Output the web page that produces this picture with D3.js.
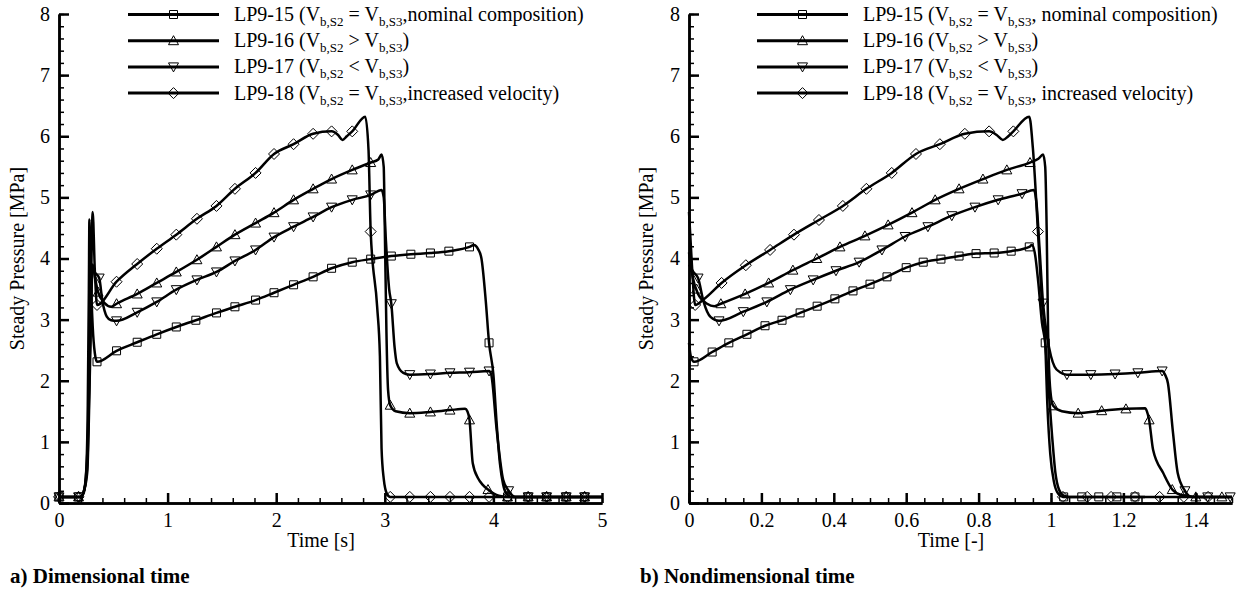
<!DOCTYPE html>
<html>
<head>
<meta charset="utf-8">
<script src="https://cdnjs.cloudflare.com/ajax/libs/d3/7.8.5/d3.min.js"></script>
<style>
body { margin: 0; background: #fff; }
svg { font-family: "Liberation Serif", "Times New Roman", serif; }
text { white-space: pre; }
</style>
</head>
<body>
<svg class="chart" width="1239" height="594"></svg>
<script>
// ---- data ----
var pressureTicks = [0, 1, 2, 3, 4, 5, 6, 7, 8];
var dimTimeTicks = [0, 1, 2, 3, 4, 5];
var nonTimeTicks = [0, 0.2, 0.4, 0.6, 0.8, 1, 1.2, 1.4];

var seriesNames = ['LP9-15', 'LP9-16', 'LP9-17', 'LP9-18'];
var seriesSymbols = ['square', 'triangle', 'triangleDown', 'diamond'];

// legend texts, odd entries are subscripts
var legendDim = [
    ['LP9-15 (V', 'b,S2', ' = V', 'b,S3', ',nominal composition)'],
    ['LP9-16 (V', 'b,S2', ' > V', 'b,S3', ')'],
    ['LP9-17 (V', 'b,S2', ' < V', 'b,S3', ')'],
    ['LP9-18 (V', 'b,S2', ' = V', 'b,S3', ',increased velocity)']
];
var legendNon = [
    ['LP9-15 (V', 'b,S2', ' = V', 'b,S3', ', nominal composition)'],
    ['LP9-16 (V', 'b,S2', ' > V', 'b,S3', ')'],
    ['LP9-17 (V', 'b,S2', ' < V', 'b,S3', ')'],
    ['LP9-18 (V', 'b,S2', ' = V', 'b,S3', ', increased velocity)']
];

// dimensional time [s] vs pressure [MPa]
var lp15Dim = [[0,0.1],[0.2,0.1],[0.23,0.18],[0.25,0.5],[0.265,1.6],[0.275,3.5],[0.28,4.64],[0.29,3.9],[0.31,2.9],[0.33,2.45],[0.35,2.31],[0.53,2.49],[0.72,2.63],[0.9,2.76],[1.08,2.88],[1.26,2.99],[1.45,3.11],[1.62,3.21],[1.81,3.32],[1.98,3.44],[2.16,3.57],[2.34,3.7],[2.51,3.84],[2.7,3.94],[2.87,3.99],[3.06,4.04],[3.24,4.07],[3.42,4.09],[3.59,4.12],[3.78,4.19],[3.82,4.22],[3.86,4.15],[3.89,4.0],[3.93,3.3],[3.96,2.62],[4.0,2.1],[4.03,1.3],[4.06,0.65],[4.09,0.3],[4.12,0.15],[4.16,0.1],[5,0.1]];
var lp15DimMarks = [[0,0.1],[0.18,0.1],[0.35,2.31],[0.53,2.49],[0.72,2.63],[0.9,2.76],[1.08,2.88],[1.26,2.99],[1.45,3.11],[1.62,3.21],[1.81,3.32],[1.98,3.44],[2.16,3.57],[2.34,3.7],[2.51,3.84],[2.7,3.94],[2.87,3.99],[3.06,4.04],[3.24,4.07],[3.42,4.09],[3.59,4.12],[3.78,4.19],[3.96,2.62],[4.13,0.1],[4.32,0.1],[4.49,0.1],[4.67,0.1],[4.84,0.1]];

var lp16Dim = [[0,0.1],[0.2,0.1],[0.23,0.2],[0.26,0.6],[0.285,2.5],[0.3,3.7],[0.31,3.9],[0.33,3.7],[0.36,3.45],[0.42,3.27],[0.48,3.21],[0.53,3.26],[0.72,3.42],[0.9,3.6],[1.08,3.78],[1.27,3.98],[1.45,4.19],[1.62,4.39],[1.81,4.58],[1.98,4.75],[2.16,4.96],[2.34,5.14],[2.51,5.3],[2.7,5.45],[2.87,5.57],[2.94,5.62],[2.97,5.7],[2.99,5.5],[3.0,4.5],[3.015,2.8],[3.03,1.85],[3.05,1.6],[3.1,1.5],[3.23,1.47],[3.42,1.49],[3.6,1.52],[3.74,1.54],[3.76,1.5],[3.78,1.36],[3.81,0.65],[3.86,0.4],[3.9,0.3],[3.95,0.22],[4.05,0.12],[4.15,0.1],[5,0.1]];
var lp16DimMarks = [[0,0.1],[0.18,0.1],[0.36,3.45],[0.53,3.26],[0.72,3.42],[0.9,3.6],[1.08,3.78],[1.27,3.98],[1.45,4.19],[1.62,4.39],[1.81,4.58],[1.98,4.75],[2.16,4.96],[2.34,5.14],[2.51,5.3],[2.7,5.45],[2.87,5.57],[3.05,1.6],[3.23,1.47],[3.42,1.49],[3.6,1.52],[3.78,1.36],[3.95,0.22],[4.13,0.1],[4.32,0.1],[4.49,0.1],[4.67,0.1],[4.84,0.1]];

var lp17Dim = [[0,0.1],[0.2,0.1],[0.23,0.2],[0.26,0.5],[0.285,2.2],[0.3,3.5],[0.31,3.8],[0.34,3.75],[0.37,3.68],[0.4,3.3],[0.44,3.05],[0.48,2.99],[0.53,2.98],[0.72,3.12],[0.9,3.29],[1.08,3.49],[1.27,3.65],[1.45,3.78],[1.62,3.96],[1.81,4.14],[1.98,4.35],[2.16,4.52],[2.34,4.68],[2.51,4.84],[2.7,4.96],[2.87,5.04],[2.97,5.12],[2.99,5.0],[3.01,4.3],[3.04,3.5],[3.06,3.26],[3.09,2.55],[3.11,2.29],[3.17,2.13],[3.23,2.1],[3.42,2.11],[3.6,2.13],[3.78,2.14],[3.96,2.16],[3.98,2.1],[4.03,1.2],[4.09,0.38],[4.14,0.2],[4.2,0.1],[5,0.1]];
var lp17DimMarks = [[0,0.1],[0.18,0.1],[0.37,3.68],[0.53,2.98],[0.72,3.12],[0.9,3.29],[1.08,3.49],[1.27,3.65],[1.45,3.78],[1.62,3.96],[1.81,4.14],[1.98,4.35],[2.16,4.52],[2.34,4.68],[2.51,4.84],[2.7,4.96],[2.87,5.04],[3.06,3.26],[3.23,2.1],[3.42,2.11],[3.6,2.13],[3.78,2.14],[3.96,2.16],[4.14,0.2],[4.32,0.1],[4.49,0.1],[4.67,0.1],[4.84,0.1]];

var lp18Dim = [[0,0.1],[0.2,0.1],[0.23,0.2],[0.26,0.8],[0.29,3.0],[0.31,4.76],[0.33,3.8],[0.35,3.24],[0.53,3.62],[0.72,3.91],[0.9,4.16],[1.08,4.39],[1.27,4.65],[1.45,4.86],[1.62,5.14],[1.81,5.4],[1.98,5.71],[2.16,5.87],[2.34,6.04],[2.51,6.08],[2.57,6.02],[2.61,5.94],[2.65,6.0],[2.7,6.08],[2.82,6.32],[2.85,5.78],[2.87,4.44],[2.93,3.2],[2.955,2.4],[2.97,0.9],[2.99,0.4],[3.02,0.15],[3.05,0.1],[5,0.1]];
var lp18DimMarks = [[0,0.1],[0.18,0.1],[0.35,3.24],[0.53,3.62],[0.72,3.91],[0.9,4.16],[1.08,4.39],[1.27,4.65],[1.45,4.86],[1.62,5.14],[1.81,5.4],[1.98,5.71],[2.16,5.87],[2.34,6.04],[2.51,6.08],[2.7,6.08],[2.87,4.44],[3.05,0.1],[3.23,0.1],[3.42,0.1],[3.6,0.1],[3.78,0.1],[3.96,0.1],[4.13,0.1],[4.32,0.1],[4.49,0.1],[4.67,0.1],[4.84,0.1]];

// nondimensional time [-] vs pressure [MPa]
var lp15Non = [[0,2.62],[0.005,2.4],[0.014,2.31],[0.064,2.47],[0.11,2.62],[0.16,2.76],[0.21,2.9],[0.257,2.99],[0.307,3.11],[0.354,3.22],[0.403,3.34],[0.453,3.47],[0.5,3.58],[0.547,3.7],[0.6,3.85],[0.647,3.94],[0.696,3.99],[0.746,4.04],[0.793,4.08],[0.843,4.09],[0.89,4.12],[0.94,4.19],[0.947,4.22],[0.955,4.1],[0.965,3.6],[0.975,2.95],[0.984,2.62],[0.993,1.9],[1.003,1.1],[1.012,0.5],[1.022,0.22],[1.035,0.12],[1.05,0.1],[1.26,0.1]];
var lp15NonMarks = [[0.014,2.31],[0.064,2.47],[0.11,2.62],[0.16,2.76],[0.21,2.9],[0.257,2.99],[0.307,3.11],[0.354,3.22],[0.403,3.34],[0.453,3.47],[0.5,3.58],[0.547,3.7],[0.6,3.85],[0.647,3.94],[0.696,3.99],[0.746,4.04],[0.793,4.08],[0.843,4.09],[0.89,4.12],[0.94,4.19],[0.984,2.62],[1.035,0.1],[1.085,0.1],[1.132,0.1],[1.182,0.1],[1.232,0.1]];

var lp16Non = [[0,4.1],[0.01,3.7],[0.025,3.42],[0.05,3.26],[0.07,3.22],[0.088,3.26],[0.155,3.42],[0.22,3.6],[0.287,3.81],[0.353,4.0],[0.417,4.19],[0.486,4.37],[0.55,4.55],[0.616,4.75],[0.68,4.96],[0.746,5.14],[0.812,5.3],[0.878,5.45],[0.942,5.57],[0.965,5.63],[0.978,5.7],[0.984,5.5],[0.988,4.5],[0.992,2.8],[0.998,1.85],[1.006,1.59],[1.03,1.5],[1.075,1.47],[1.14,1.51],[1.207,1.54],[1.26,1.55],[1.265,1.5],[1.271,1.36],[1.282,0.87],[1.31,0.49],[1.335,0.22],[1.36,0.13],[1.4,0.1],[1.5,0.1]];
var lp16NonMarks = [[0.021,3.5],[0.088,3.26],[0.155,3.42],[0.22,3.6],[0.287,3.81],[0.353,4.0],[0.417,4.19],[0.486,4.37],[0.55,4.55],[0.616,4.75],[0.68,4.96],[0.746,5.14],[0.812,5.3],[0.878,5.45],[0.942,5.57],[1.006,1.59],[1.075,1.47],[1.14,1.51],[1.207,1.54],[1.271,1.36],[1.335,0.22],[1.4,0.1],[1.472,0.1]];

var lp17Non = [[0,3.9],[0.012,3.78],[0.025,3.68],[0.04,3.3],[0.06,3.04],[0.083,2.98],[0.15,3.13],[0.215,3.29],[0.28,3.49],[0.343,3.65],[0.406,3.8],[0.47,3.94],[0.533,4.14],[0.597,4.36],[0.66,4.52],[0.726,4.7],[0.79,4.84],[0.854,4.96],[0.92,5.06],[0.953,5.12],[0.96,4.9],[0.968,4.2],[0.978,3.27],[0.99,2.7],[1.0,2.4],[1.01,2.23],[1.025,2.14],[1.044,2.1],[1.11,2.1],[1.177,2.11],[1.24,2.13],[1.307,2.16],[1.315,2.1],[1.323,1.96],[1.337,1.15],[1.35,0.49],[1.37,0.2],[1.39,0.1],[1.5,0.1]];
var lp17NonMarks = [[0.025,3.68],[0.083,2.98],[0.15,3.13],[0.215,3.29],[0.28,3.49],[0.343,3.65],[0.406,3.8],[0.47,3.94],[0.533,4.14],[0.597,4.36],[0.66,4.52],[0.726,4.7],[0.79,4.84],[0.854,4.96],[0.92,5.06],[0.978,3.27],[1.044,2.1],[1.11,2.1],[1.177,2.11],[1.24,2.13],[1.307,2.16],[1.37,0.2],[1.433,0.1],[1.495,0.1]];

var lp18Non = [[0,4.76],[0.008,3.9],[0.017,3.24],[0.04,3.33],[0.09,3.6],[0.157,3.89],[0.224,4.14],[0.29,4.39],[0.359,4.63],[0.425,4.86],[0.49,5.14],[0.56,5.4],[0.627,5.71],[0.693,5.87],[0.762,6.04],[0.829,6.08],[0.85,6.02],[0.867,5.94],[0.882,6.0],[0.896,6.08],[0.94,6.32],[0.95,5.8],[0.964,4.44],[0.975,3.3],[0.983,2.78],[0.99,1.6],[0.998,0.8],[1.008,0.35],[1.02,0.15],[1.033,0.1],[1.5,0.1]];
var lp18NonMarks = [[0.017,3.24],[0.09,3.6],[0.157,3.89],[0.224,4.14],[0.29,4.39],[0.359,4.63],[0.425,4.86],[0.49,5.14],[0.56,5.4],[0.627,5.71],[0.693,5.87],[0.762,6.04],[0.829,6.08],[0.896,6.08],[0.964,4.44],[1.033,0.1],[1.1,0.1],[1.166,0.1],[1.232,0.1],[1.3,0.1],[1.367,0.1],[1.434,0.1]];

// ---- layout ----
var plotTop = 14, plotBottom = 503;

var panels = [
    {
        left: 59, right: 602, domain: [0, 5], ticks: dimTimeTicks, minorStep: 0.2,
        xTitle: 'Time [s]', xTitleX: 321, yTitleX: 24,
        caption: 'a) Dimensional time', captionX: 10,
        legend: legendDim, legendX: 128,
        lines: [lp15Dim, lp16Dim, lp17Dim, lp18Dim],
        marks: [lp15DimMarks, lp16DimMarks, lp17DimMarks, lp18DimMarks]
    },
    {
        left: 689, right: 1232, domain: [0, 1.5], ticks: nonTimeTicks, minorStep: 0.05,
        xTitle: 'Time [-]', xTitleX: 951, yTitleX: 653,
        caption: 'b) Nondimensional time', captionX: 640,
        legend: legendNon, legendX: 757,
        lines: [lp15Non, lp16Non, lp17Non, lp18Non],
        marks: [lp15NonMarks, lp16NonMarks, lp17NonMarks, lp18NonMarks]
    }
];

var symbolPath = function(type){
    if(type === 'square') return 'M-4,-4H4V4H-4Z';
    if(type === 'triangle') return 'M0,-5L5,4H-5Z';
    if(type === 'triangleDown') return 'M0,5L5,-4H-5Z';
    return 'M0,-5.5L5.5,0L0,5.5L-5.5,0Z';
};

var fmt = function(d){ return String(+d.toFixed(2)); };

var svg = d3.select('svg.chart');

var renderPanel = function(p){
    var x = d3.scaleLinear().domain(p.domain).range([p.left, p.right]);
    var y = d3.scaleLinear().domain([0, 8]).range([plotBottom, plotTop]);
    var g = svg.append('g');

    // minor ticks
    g.append('g')
        .attr('transform', 'translate(0,' + plotBottom + ')')
        .call(d3.axisBottom(x).tickValues(d3.range(p.domain[0], p.domain[1] + 1e-6, p.minorStep)).tickSize(-5).tickSizeOuter(0).tickFormat(''));
    g.append('g')
        .attr('transform', 'translate(' + p.left + ',0)')
        .call(d3.axisLeft(y).tickValues(d3.range(0, 8.001, 0.2)).tickSize(-5).tickSizeOuter(0).tickFormat(''));

    // major ticks + labels
    var xAxis = g.append('g')
        .attr('transform', 'translate(0,' + plotBottom + ')')
        .call(d3.axisBottom(x).tickValues(p.ticks).tickSize(-10).tickSizeOuter(0).tickPadding(10).tickFormat(fmt));
    var yAxis = g.append('g')
        .attr('transform', 'translate(' + p.left + ',0)')
        .call(d3.axisLeft(y).tickValues(pressureTicks).tickSize(-10).tickSizeOuter(0).tickPadding(9).tickFormat(fmt));

    g.selectAll('.domain').attr('stroke', '#000').attr('stroke-width', 2.5);
    g.selectAll('.tick line').attr('stroke', '#000').attr('stroke-width', 1.5);
    g.selectAll('.tick line').filter(function(){ return Math.abs(+this.getAttribute('x2') || +this.getAttribute('y2')) > 8; })
        .attr('stroke-width', 2.5);
    [xAxis, yAxis].forEach(function(a){
        a.attr('font-family', null).attr('font-size', null);
        a.selectAll('text').attr('fill', '#000').style('font-size', '20px');
    });

    // axis titles
    g.append('text')
        .attr('x', p.xTitleX).attr('y', 547)
        .attr('text-anchor', 'middle')
        .style('font-size', '20px')
        .text(p.xTitle);
    g.append('text')
        .attr('transform', 'translate(' + p.yTitleX + ',' + (plotTop + plotBottom) / 2 + ') rotate(-90)')
        .attr('text-anchor', 'middle')
        .style('font-size', '20px')
        .text('Steady Pressure [MPa]');

    // caption
    g.append('text')
        .attr('x', p.captionX).attr('y', 583)
        .style('font-size', '21px').style('font-weight', 'bold')
        .text(p.caption);

    // series
    var line = d3.line()
        .x(function(d){ return x(d[0]); })
        .y(function(d){ return y(d[1]); })
        .curve(d3.curveMonotoneX);

    p.lines.forEach(function(data, i){
        g.append('path')
            .attr('d', line(data))
            .attr('fill', 'none')
            .attr('stroke', '#000')
            .attr('stroke-width', 2.5)
            .attr('stroke-linejoin', 'round');

        g.selectAll('.mark' + i)
            .data(p.marks[i])
            .enter().append('path')
            .attr('class', 'mark' + i)
            .attr('transform', function(d){ return 'translate(' + [x(d[0]), y(d[1])] + ')'; })
            .attr('d', symbolPath(seriesSymbols[i]))
            .attr('fill', 'none')
            .attr('stroke', '#000')
            .attr('stroke-width', 1);
    });

    // legend
    var rowH = 26.2;
    var items = g.selectAll('.legend-item')
        .data(p.legend)
        .enter().append('g')
        .attr('class', 'legend-item')
        .attr('transform', function(d, i){ return 'translate(' + p.legendX + ',' + (plotTop + 0.5 + i * rowH) + ')'; });

    items.append('line')
        .attr('x1', 0).attr('x2', 91)
        .attr('stroke', '#000').attr('stroke-width', 3);

    items.append('path')
        .attr('transform', 'translate(45.5,0)')
        .attr('d', function(d, i){ return symbolPath(seriesSymbols[i]); })
        .attr('fill', 'none').attr('stroke', '#000').attr('stroke-width', 1);

    var texts = items.append('text')
        .attr('x', 106).attr('y', 6.5)
        .style('font-size', '20px');

    texts.each(function(parts){
        var t = d3.select(this);
        parts.forEach(function(s, k){
            var sub = k % 2 === 1;
            t.append('tspan')
                .attr('dy', k === 0 ? 0 : (sub ? 5 : -5))
                .style('font-size', sub ? '13px' : '20px')
                .text(s);
        });
    });
};

panels.forEach(renderPanel);
</script>
</body>
</html>
